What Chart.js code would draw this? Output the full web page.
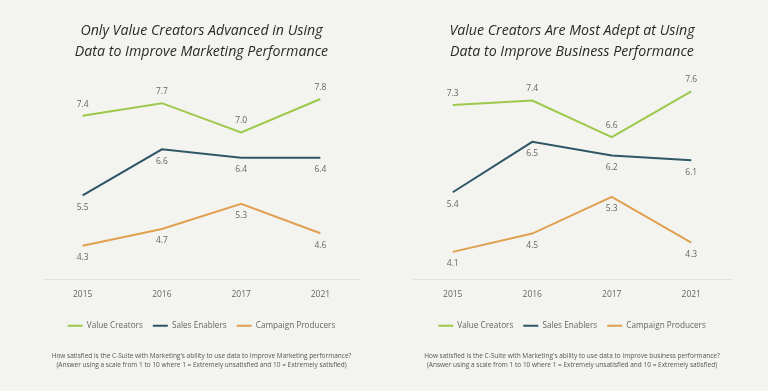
<!DOCTYPE html>
<html>
<head>
<meta charset="utf-8">
<script src="https://cdn.jsdelivr.net/npm/chart.js@4.4.0/dist/chart.umd.min.js"></script>
<style>
  html, body { margin: 0; padding: 0; background: #f3f3ef; }
  #wrap { display: flex; width: 768px; height: 391px; }
  .cell { position: relative; width: 384px; height: 391px; }
</style>
</head>
<body>
<div id="wrap">
  <div class="cell"><canvas id="mktChart"></canvas></div>
  <div class="cell"><canvas id="bizChart"></canvas></div>
</div>
<script>
// Data
const years = ['2015', '2016', '2017', '2021'];
const seriesNames = ['Value Creators', 'Sales Enablers', 'Campaign Producers'];

const valueCreatorsMkt = [7.4, 7.7, 7.0, 7.8];
const salesEnablersMkt = [5.5, 6.6, 6.4, 6.4];
const campaignProducersMkt = [4.3, 4.7, 5.3, 4.6];

const valueCreatorsBiz = [7.3, 7.4, 6.6, 7.6];
const salesEnablersBiz = [5.4, 6.5, 6.2, 6.1];
const campaignProducersBiz = [4.1, 4.5, 5.3, 4.3];

const mktTitle = ['Only Value Creators Advanced in Using', 'Data to Improve Marketing Performance'];
const bizTitle = ['Value Creators Are Most Adept at Using', 'Data to Improve Business Performance'];
const mktNote = [
  "How satisfied is the C-Suite with Marketing's ability to use data to Improve Marketing performance?",
  '(Answer using a scale from 1 to 10 where 1 = Extremely unsatisfied and 10 = Extremely satisfied)'
];
const bizNote = [
  "How satisfied is the C-Suite with Marketing's ability to use data to Improve business performance?",
  '(Answer using a scale from 1 to 10 where 1 = Extremely unsatisfied and 10 = Extremely satisfied)'
];

const colors = ['#9dc84a', '#2e5667', '#e0a04f'];
const labelAbove = [true, false, false];

// draws the value next to each point
const pointLabels = {
  id: 'pointLabels',
  afterDatasetsDraw(chart) {
    const ctx = chart.ctx;
    ctx.save();
    ctx.font = '8.5px "Open Sans"';
    ctx.fillStyle = '#666';
    ctx.textAlign = 'center';
    ctx.textBaseline = 'middle';
    chart.data.datasets.forEach((ds, i) => {
      const meta = chart.getDatasetMeta(i);
      meta.data.forEach((pt, j) => {
        const dy = labelAbove[i] ? -11.5 : 12;
        ctx.fillText(ds.data[j].toFixed(1), pt.x, pt.y + dy);
      });
    });
    ctx.restore();
  }
};

function makeChart(id, title, note, series, yMax, pad) {
  const ctx = document.getElementById(id).getContext('2d');
  return new Chart(ctx, {
    type: 'line',
    data: {
      labels: years,
      datasets: series.map((vals, i) => ({
        label: seriesNames[i],
        data: vals,
        borderColor: colors[i],
        backgroundColor: colors[i],
        borderWidth: 2,
        pointRadius: 0,
        tension: 0,
        fill: false
      }))
    },
    options: {
      responsive: true,
      maintainAspectRatio: false,
      animation: false,
      layout: { padding: { left: pad.left, right: pad.right, top: 0, bottom: 21 } },
      scales: {
        y: { display: false, min: 3.5, max: yMax },
        x: {
          offset: true,
          grid: { display: false },
          border: { display: true, color: '#e1e1dd', width: 1 },
          ticks: { color: '#666', font: { family: 'Open Sans', size: 8.5 }, padding: 2 },
          // empty axis title, only used as a spacer above the legend
          title: { display: true, text: ' ', font: { size: 1, lineHeight: 1 }, padding: { top: 9, bottom: 0 } }
        }
      },
      plugins: {
        title: {
          display: true,
          text: title,
          color: '#2b2b2b',
          font: { family: 'Open Sans', size: 14.2, style: 'italic', weight: 'normal', lineHeight: 1.45 },
          padding: { top: 21, bottom: 20 }
        },
        legend: {
          display: true,
          position: 'bottom',
          labels: {
            usePointStyle: true,
            pointStyle: 'line',
            pointStyleWidth: 15,
            color: '#666',
            font: { family: 'Open Sans', size: 8.2 },
            padding: 10
          }
        },
        subtitle: {
          display: true,
          position: 'bottom',
          text: note,
          color: '#555',
          font: { family: 'Open Sans', size: 6.5, lineHeight: 1.4 },
          padding: { top: 12, bottom: 0 }
        },
        tooltip: { enabled: false }
      }
    },
    plugins: [pointLabels]
  });
}

makeChart('mktChart', mktTitle, mktNote,
  [valueCreatorsMkt, salesEnablersMkt, campaignProducersMkt], 8.2, { left: 43, right: 24 });
makeChart('bizChart', bizTitle, bizNote,
  [valueCreatorsBiz, salesEnablersBiz, campaignProducersBiz], 7.8, { left: 29, right: 37 });
</script>
</body>
</html>
